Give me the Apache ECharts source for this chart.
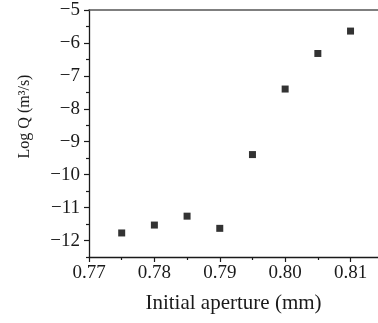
<!DOCTYPE html>
<html><head><meta charset="utf-8">
<script src="https://cdn.jsdelivr.net/npm/echarts@6/dist/echarts.min.js"></script>
<style>html,body{margin:0;padding:0;background:#fff}#c{width:378px;height:323px}</style>
</head><body><div id="c"></div>
<script>
const apertures = [0.775, 0.780, 0.785, 0.790, 0.795, 0.800, 0.805, 0.810];
const logQ = [-11.77, -11.53, -11.26, -11.63, -9.39, -7.40, -6.32, -5.64];
const xTicks = [0.77, 0.78, 0.79, 0.80, 0.81];
const xMinorTicks = [0.775, 0.785, 0.795, 0.805];
const yTicks = [-12, -11, -10, -9, -8, -7, -6, -5];
const yMinorTicks = [-12.5, -11.5, -10.5, -9.5, -8.5, -7.5, -6.5, -5.5];
const xTitle = 'Initial aperture (mm)';
const yTitle = 'Log Q (m³/s)';

const font = '"Liberation Serif", "DejaVu Serif", serif';
const ink = '#1a1a1a';
const xMin = 0.77, xMax = 0.8142, yMin = -12.5, yMax = -5;
const chart = echarts.init(document.getElementById('c'), null, {renderer: 'canvas'});
const points = apertures.map((x, i) => [x, logQ[i]]);
chart.setOption({
  animation: false,
  grid: {left: 89, top: 10, right: 0, bottom: 66},
  xAxis: [{
    type: 'value', position: 'bottom', min: xMin, max: xMax,
    name: xTitle, nameLocation: 'middle', nameGap: 36,
    nameTextStyle: {fontFamily: font, fontSize: 21, color: ink},
    axisLine: {show: true, lineStyle: {color: ink, width: 1.3}},
    axisTick: {show: true, inside: false, length: 5, customValues: xTicks, lineStyle: {color: ink, width: 1.2}},
    splitLine: {show: false},
    axisLabel: {fontFamily: font, fontSize: 19, color: ink, margin: 7, customValues: xTicks,
      formatter: v => v.toFixed(2)}
  }, {
    type: 'value', position: 'top', min: xMin, max: xMax,
    axisLine: {show: true, lineStyle: {color: '#555', width: 1.5}},
    axisTick: {show: false}, axisLabel: {show: false}, splitLine: {show: false}
  }, {
    type: 'value', position: 'bottom', min: xMin, max: xMax,
    axisLine: {show: false},
    axisTick: {show: true, inside: false, length: 3, customValues: xMinorTicks, lineStyle: {color: ink, width: 1.2}},
    axisLabel: {show: false}, splitLine: {show: false}
  }],
  yAxis: [{
    type: 'value', position: 'left', min: yMin, max: yMax,
    name: yTitle, nameLocation: 'middle', nameGap: 56, nameRotate: 90,
    nameTextStyle: {fontFamily: font, fontSize: 16, color: ink, padding: [0, 0, 0, 34]},
    axisLine: {show: true, lineStyle: {color: ink, width: 1.3}},
    axisTick: {show: true, inside: false, length: 5, customValues: yTicks, lineStyle: {color: ink, width: 1.2}},
    splitLine: {show: false},
    axisLabel: {fontFamily: font, fontSize: 19, color: ink, margin: 9, customValues: yTicks,
      formatter: v => (v < 0 ? '\u2212' : '') + Math.abs(v)}
  }, {
    type: 'value', position: 'left', min: yMin, max: yMax,
    axisLine: {show: false},
    axisTick: {show: true, inside: false, length: 3, customValues: yMinorTicks, lineStyle: {color: ink, width: 1.2}},
    axisLabel: {show: false}, splitLine: {show: false}
  }],
  series: [{
    type: 'scatter', xAxisIndex: 0, yAxisIndex: 0, data: points,
    symbol: 'rect', symbolSize: 7,
    itemStyle: {color: '#000'}
  }]
});
</script></body></html>
